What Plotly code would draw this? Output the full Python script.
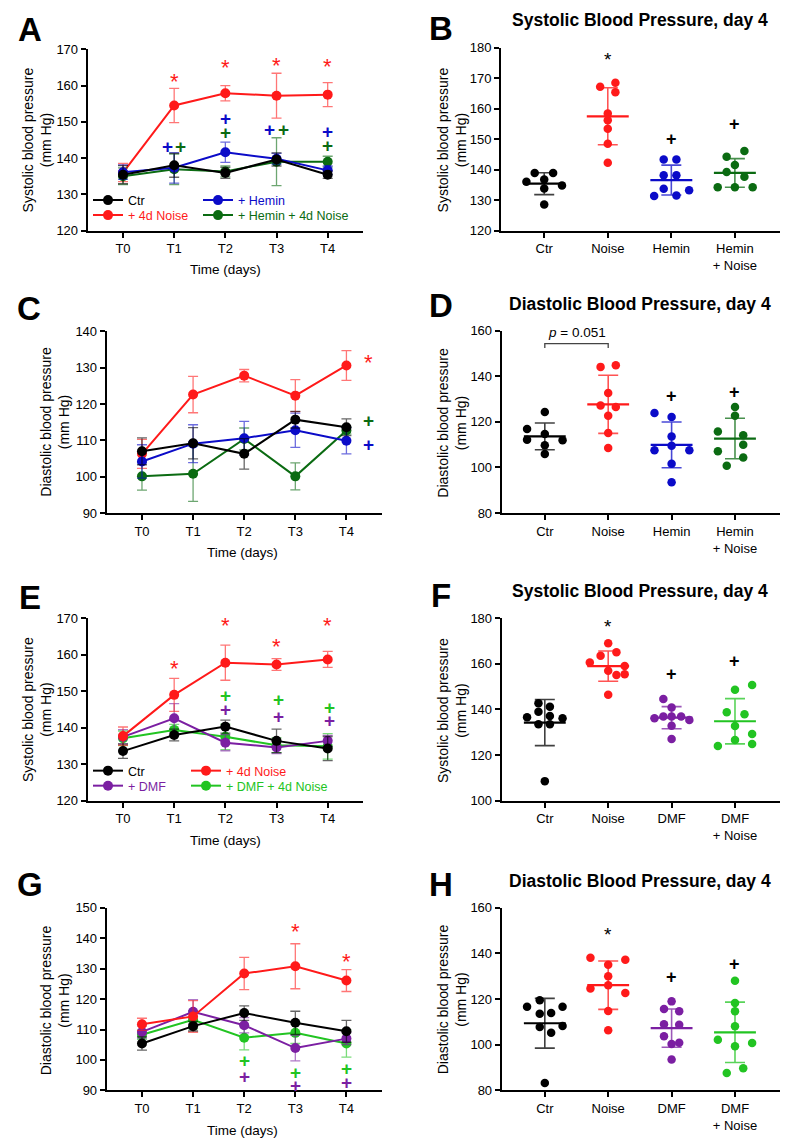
import numpy as np
import plotly.graph_objects as go

FONT = "Liberation Sans, Arial, Helvetica, sans-serif"
BLACK = "#000000"
RED = "#FF1A1A"
BLUE = "#0B0BC8"
DKGREEN = "#0B6B12"
PURPLE = "#7B1FA2"
LTGREEN = "#22C422"

# ---------------- data ----------------
time_labels = ["T0", "T1", "T2", "T3", "T4"]

# Panel A - systolic, hemin (mean +/- SEM)
A_ctr = [135.4, 138.0, 135.9, 139.6, 135.4]
A_ctr_err = [2.5, 3.3, 1.5, 1.8, 1.0]
A_noise = [136.0, 154.5, 157.9, 157.2, 157.5]
A_noise_err = [2.5, 4.7, 2.1, 6.2, 3.3]
A_hemin = [136.1, 137.3, 141.6, 139.8, 136.6]
A_hemin_err = [2.0, 4.2, 2.8, 1.5, 1.2]
A_hn = [135.0, 136.9, 136.3, 139.0, 139.0]
A_hn_err = [2.3, 4.2, 1.5, 6.6, 1.5]

# Panel C - diastolic, hemin
C_ctr = [107.0, 109.2, 106.3, 115.7, 113.6]
C_ctr_err = [3.7, 4.3, 4.2, 2.3, 2.3]
C_noise = [106.3, 122.6, 127.8, 122.3, 130.6]
C_noise_err = [4.0, 5.0, 1.7, 4.4, 4.1]
C_hemin = [104.2, 109.1, 110.6, 112.8, 109.9]
C_hemin_err = [4.6, 5.2, 4.6, 4.7, 3.6]
C_hn = [100.1, 100.8, 110.4, 100.1, 112.7]
C_hn_err = [3.8, 7.6, 3.0, 3.7, 1.0]

# Panel E - systolic, DMF
E_ctr = [133.6, 138.0, 140.3, 136.4, 134.3]
E_ctr_err = [2.0, 1.6, 1.8, 3.2, 3.3]
E_noise = [137.7, 149.0, 157.8, 157.3, 158.7]
E_noise_err = [2.5, 4.5, 4.8, 1.6, 2.2]
E_dmf = [137.5, 142.6, 135.9, 134.6, 136.4]
E_dmf_err = [2.0, 4.0, 2.2, 1.7, 1.5]
E_dn = [137.1, 139.4, 137.5, 135.2, 134.9]
E_dn_err = [2.0, 1.5, 3.5, 2.0, 3.5]

# Panel G - diastolic, DMF
G_ctr = [105.4, 111.1, 115.4, 112.2, 109.4]
G_ctr_err = [2.2, 1.6, 2.4, 3.8, 3.6]
G_noise = [111.7, 114.3, 128.4, 130.8, 126.1]
G_noise_err = [2.0, 5.2, 5.3, 7.4, 3.6]
G_dmf = [109.2, 115.8, 111.4, 103.9, 107.0]
G_dmf_err = [2.0, 4.0, 2.5, 4.2, 2.0]
G_dn = [108.3, 113.2, 107.3, 108.9, 105.4]
G_dn_err = [1.5, 3.0, 4.0, 3.5, 4.5]

# Day-4 individual animals
hemin_groups = ["Ctr", "Noise", "Hemin", "Hemin<br>+ Noise"]
dmf_groups = ["Ctr", "Noise", "DMF", "DMF<br>+ Noise"]

B_ctr = [138.9, 138.9, 136.0, 136.7, 134.8, 133.8, 128.5]
B_noise = [168.5, 167.2, 165.4, 158.4, 156.2, 153.4, 148.5, 142.2]
B_hemin = [143.3, 143.3, 138.1, 138.1, 133.7, 133.2, 131.3, 131.5]
B_hn = [146.1, 144.2, 141.5, 139.2, 137.6, 134.2, 134.2, 134.2]

D_ctr = [124.3, 116.9, 114.7, 112.2, 111.9, 109.7, 105.9]
D_noise = [144.1, 144.8, 132.6, 127.2, 126.5, 122.7, 115.1, 108.5]
D_hemin = [123.9, 122.1, 113.6, 107.5, 109.5, 107.5, 101.6, 93.5]
D_hn = [126.5, 122.7, 115.8, 114.1, 110.0, 107.1, 104.4, 100.8]

F_ctr = [142.7, 141.2, 136.6, 139.0, 137.1, 136.1, 133.5, 133.5, 108.6]
F_noise = [169.0, 163.5, 165.1, 160.6, 157.0, 159.0, 155.1, 155.4, 146.4]
F_dmf = [144.6, 140.9, 136.1, 136.9, 136.9, 136.9, 135.4, 132.9, 127.1]
F_dn = [150.7, 148.6, 138.8, 137.9, 132.8, 129.3, 124.0, 126.6, 124.9]

H_ctr = [119.5, 116.6, 116.6, 113.6, 113.9, 107.8, 108.2, 105.2, 83.2]
H_noise = [138.1, 137.3, 135.1, 130.0, 124.6, 126.1, 122.7, 114.8, 106.3]
H_dmf = [119.0, 115.7, 114.7, 109.0, 108.7, 103.7, 100.9, 100.3, 93.5]
H_dn = [128.0, 118.3, 114.7, 108.1, 102.2, 100.8, 99.3, 89.7, 87.6]

# horizontal scatter (jitter) of the dots, in category units
B_ctr_dx = [-0.15, 0.14, -0.28, 0, 0.28, 0, 0]
B_noise_dx = [0.12, -0.12, 0.12, 0, 0, 0, 0, 0]
B_hemin_dx = [-0.12, 0.08, -0.12, 0.08, -0.12, 0.28, -0.27, 0.08]
B_hn_dx = [0.15, -0.13, 0, -0.13, 0.15, -0.27, 0, 0.28]
D_ctr_dx = [0, -0.28, 0, -0.28, 0.28, 0, 0]
D_noise_dx = [-0.12, 0.12, 0, -0.12, 0.12, 0, 0, 0]
D_hemin_dx = [-0.27, 0, 0, -0.27, 0, 0.28, 0, 0]
D_hn_dx = [0, 0, -0.27, 0.13, 0.13, -0.27, 0.13, -0.13]
F_ctr_dx = [-0.1, 0.08, -0.28, -0.1, 0.08, 0.28, -0.1, 0.08, 0]
F_noise_dx = [0, -0.12, 0.13, -0.29, 0, 0.26, 0.13, 0.26, 0]
F_dmf_dx = [-0.13, 0, -0.27, -0.13, 0, 0.15, 0.28, 0, 0]
F_dn_dx = [0.27, 0, -0.13, 0.15, 0, 0.27, -0.27, 0, 0.27]
H_ctr_dx = [-0.08, -0.28, 0.28, -0.08, 0.1, -0.08, 0.28, 0.1, 0]
H_noise_dx = [-0.28, 0.27, 0, 0, -0.28, 0, 0.27, 0, 0]
H_dmf_dx = [0, -0.12, 0.12, -0.12, 0.12, -0.12, 0.12, 0, 0]
H_dn_dx = [0, 0, 0, 0, -0.27, 0.27, 0, 0.13, -0.13]

# significance markers (x in category units, y in mm Hg)
A_star = ([1, 2, 3, 4], [162.6, 166.5, 167.0, 166.7])
A_plus_hemin = ([0.87, 2, 2.87, 4], [143.3, 151.0, 147.9, 147.2])
A_plus_hn = ([1.12, 2, 3.13, 4], [143.3, 147.0, 147.9, 143.6])
C_star = ([4.44], [132.7])
C_plus_hn = ([4.44], [115.4])
C_plus_hemin = ([4.44], [109.0])
E_star = ([1, 2, 3, 4], [157.5, 169.4, 163.6, 169.4])
E_plus_dn = ([2, 3.03, 4.03], [148.7, 147.8, 145.5])
E_plus_dmf = ([2, 3.03, 4.03], [145.0, 143.2, 141.9])
G_star = ([3, 4], [144.0, 133.9])
G_plus_dn = ([2, 3, 4], [99.9, 95.7, 97.1])
G_plus_dmf = ([2, 3, 4], [94.7, 91.7, 92.5])
B_star = ([1], [177.3]); B_plus = ([2, 3], [150.1, 155.0])
D_plus = ([2, 3], [131.5, 133.0])
F_star = ([1], [178.1]); F_plus = ([2, 3], [155.6, 161.3])
H_star = ([1], [149.9]); H_plus = ([2, 3], [129.7, 135.3])

# ---------------- figure ----------------
W, H = 794, 1148
# the photographed page comes out slightly squeezed vertically; compensate
VS, VO = 0.986, 7.7


def px(x):
    return x / W


def py(y):
    return 1 - ((y - VO) / VS) / H


def rgba(hexc, a):
    h = hexc.lstrip("#")
    return "rgba(%d,%d,%d,%s)" % (int(h[0:2], 16), int(h[2:4], 16), int(h[4:6], 16), a)


def ref(k):
    return ("x" if k == 1 else "x%d" % k), ("y" if k == 1 else "y%d" % k)


fig = go.Figure()
layout = dict(width=W, height=H, margin=dict(l=0, r=0, t=0, b=0),
              paper_bgcolor="white", plot_bgcolor="white",
              font=dict(family=FONT, color="black"), showlegend=True)
annotations = []
shapes = []


def axis_common():
    return dict(showgrid=False, zeroline=False, showline=True, linecolor="black",
                linewidth=2, ticks="outside", ticklen=5, tickwidth=1.5, tickcolor="black",
                tickfont=dict(family=FONT, size=13, color="black"), fixedrange=True)


def set_axes(k, xdom, ydom, xr, yr, dtick, tickvals, ticktext):
    xa = axis_common()
    xa.update(domain=[px(xdom[0]), px(xdom[1])], range=xr, tickmode="array",
              tickvals=tickvals, ticktext=ticktext, anchor=ref(k)[1])
    ya = axis_common()
    ya.update(domain=[py(ydom[1]), py(ydom[0])], range=yr, dtick=dtick, tick0=0,
              anchor=ref(k)[0])
    layout["xaxis" if k == 1 else "xaxis%d" % k] = xa
    layout["yaxis" if k == 1 else "yaxis%d" % k] = ya


def add_line_panel(k, series):
    xr_, yr_ = ref(k)
    for name, vals, errs, color, leg in series:
        fig.add_trace(go.Scatter(
            x=list(range(len(time_labels))), y=vals, mode="lines+markers",
            name='<span style="color:%s">%s</span>' % (color, name),
            line=dict(color=color, width=2), marker=dict(color=color, size=10),
            error_y=dict(type="data", array=errs, visible=True, color=rgba(color, 0.6),
                         thickness=1.3, width=5),
            xaxis=xr_, yaxis=yr_, legend=leg if leg else "legend",
            showlegend=leg is not None, cliponaxis=False))


def add_dot_panel(k, groups):
    xr_, yr_ = ref(k)
    for ci, (vals, dx, color) in enumerate(groups):
        fig.add_trace(go.Scatter(
            x=[ci + d for d in dx], y=vals, mode="markers",
            marker=dict(color=color, size=8.5), xaxis=xr_, yaxis=yr_,
            showlegend=False, cliponaxis=False))
        m = float(np.mean(vals))
        sd = float(np.std(vals, ddof=1))
        fig.add_trace(go.Scatter(
            x=[ci], y=[m], mode="markers", marker=dict(size=2, opacity=0),
            error_x=dict(type="constant", value=0.33, width=0, thickness=2.2, color=color),
            error_y=dict(type="constant", value=sd, width=10, thickness=1.6,
                         color=rgba(color, 0.75)),
            xaxis=xr_, yaxis=yr_, showlegend=False, cliponaxis=False))


def add_marks(k, pts, text, color, size, yshift=0, bold=False):
    xr_, yr_ = ref(k)
    t = "<b>%s</b>" % text if bold else text
    for x, y in zip(*pts):
        annotations.append(dict(x=x, y=y, xref=xr_, yref=yr_, text=t, showarrow=False,
                                font=dict(family=FONT, size=size, color=color),
                                yshift=yshift))


def note(xp, yp, text, size, bold=False, angle=0, xanchor="center", color="black"):
    annotations.append(dict(x=px(xp), y=py(yp), xref="paper", yref="paper",
                            text=("<b>%s</b>" % text) if bold else text, showarrow=False,
                            textangle=angle, xanchor=xanchor, yanchor="middle",
                            font=dict(family=FONT, size=size, color=color)))


LX = [-0.69, 4.69]
DX = [-0.68, 3.71]
tidx = list(range(5))
gidx = list(range(4))

# axes (pixel boxes of each panel)
set_axes(1, (87.7, 363), (50, 231), LX, [120, 170], 10, tidx, time_labels)
set_axes(2, (501, 780), (48.3, 231), DX, [120, 180], 10, gidx, hemin_groups)
set_axes(3, (106.7, 381.7), (331.7, 513.3), LX, [90, 140], 10, tidx, time_labels)
set_axes(4, (501.7, 780), (331, 513.3), DX, [80, 160], 20, gidx, hemin_groups)
set_axes(5, (87.7, 363), (618.3, 800.7), LX, [120, 170], 10, tidx, time_labels)
set_axes(6, (501.7, 780), (618.3, 800.7), DX, [100, 180], 20, gidx, dmf_groups)
set_axes(7, (106.7, 381.7), (907.7, 1090), LX, [90, 150], 10, tidx, time_labels)
set_axes(8, (501.7, 780), (907.7, 1090), DX, [80, 160], 20, gidx, dmf_groups)

# Line panels
add_line_panel(1, [
    ("+ 4d Noise", A_noise, A_noise_err, RED, "legend2"),
    ("+ Hemin + 4d Noise", A_hn, A_hn_err, DKGREEN, "legend4"),
    ("+ Hemin", A_hemin, A_hemin_err, BLUE, "legend3"),
    ("Ctr", A_ctr, A_ctr_err, BLACK, "legend"),
])
add_line_panel(3, [
    ("+ 4d Noise", C_noise, C_noise_err, RED, None),
    ("+ Hemin + 4d Noise", C_hn, C_hn_err, DKGREEN, None),
    ("+ Hemin", C_hemin, C_hemin_err, BLUE, None),
    ("Ctr", C_ctr, C_ctr_err, BLACK, None),
])
add_line_panel(5, [
    ("+ DMF + 4d Noise", E_dn, E_dn_err, LTGREEN, "legend8"),
    ("+ DMF", E_dmf, E_dmf_err, PURPLE, "legend6"),
    ("+ 4d Noise", E_noise, E_noise_err, RED, "legend7"),
    ("Ctr", E_ctr, E_ctr_err, BLACK, "legend5"),
])
add_line_panel(7, [
    ("+ DMF + 4d Noise", G_dn, G_dn_err, LTGREEN, None),
    ("+ DMF", G_dmf, G_dmf_err, PURPLE, None),
    ("+ 4d Noise", G_noise, G_noise_err, RED, None),
    ("Ctr", G_ctr, G_ctr_err, BLACK, None),
])

# Dot panels
add_dot_panel(2, [(B_ctr, B_ctr_dx, BLACK), (B_noise, B_noise_dx, RED),
                  (B_hemin, B_hemin_dx, BLUE), (B_hn, B_hn_dx, DKGREEN)])
add_dot_panel(4, [(D_ctr, D_ctr_dx, BLACK), (D_noise, D_noise_dx, RED),
                  (D_hemin, D_hemin_dx, BLUE), (D_hn, D_hn_dx, DKGREEN)])
add_dot_panel(6, [(F_ctr, F_ctr_dx, BLACK), (F_noise, F_noise_dx, RED),
                  (F_dmf, F_dmf_dx, PURPLE), (F_dn, F_dn_dx, LTGREEN)])
add_dot_panel(8, [(H_ctr, H_ctr_dx, BLACK), (H_noise, H_noise_dx, RED),
                  (H_dmf, H_dmf_dx, PURPLE), (H_dn, H_dn_dx, LTGREEN)])


# legends: one entry each, placed like the original two-column key
def legend_at(text_x, yc):
    return dict(x=px(text_x - 42), y=py(yc), xanchor="left", yanchor="middle",
                bgcolor="rgba(0,0,0,0)", borderwidth=0,
                font=dict(family=FONT, size=12.5), itemwidth=30)


layout["legend"] = legend_at(130, 201)
layout["legend2"] = legend_at(130, 216)
layout["legend3"] = legend_at(240, 201)
layout["legend4"] = legend_at(240, 216)
layout["legend5"] = legend_at(130, 771)
layout["legend6"] = legend_at(130, 786)
layout["legend7"] = legend_at(228, 771)
layout["legend8"] = legend_at(228, 786)

# significance symbols
add_marks(1, A_star, "*", RED, 22, yshift=-5)
add_marks(1, A_plus_hemin, "+", BLUE, 19, bold=True)
add_marks(1, A_plus_hn, "+", DKGREEN, 19, bold=True)
add_marks(3, C_star, "*", RED, 22, yshift=-5)
add_marks(3, C_plus_hn, "+", DKGREEN, 19, bold=True)
add_marks(3, C_plus_hemin, "+", BLUE, 19, bold=True)
add_marks(5, E_star, "*", RED, 22, yshift=-5)
add_marks(5, E_plus_dn, "+", LTGREEN, 19, bold=True)
add_marks(5, E_plus_dmf, "+", PURPLE, 19, bold=True)
add_marks(7, G_star, "*", RED, 22, yshift=-5)
add_marks(7, G_plus_dn, "+", LTGREEN, 19, bold=True)
add_marks(7, G_plus_dmf, "+", PURPLE, 19, bold=True)
add_marks(2, B_star, "*", BLACK, 19, yshift=-4)
add_marks(2, B_plus, "+", BLACK, 18, bold=True)
add_marks(4, D_plus, "+", BLACK, 18, bold=True)
add_marks(6, F_star, "*", BLACK, 19, yshift=-4)
add_marks(6, F_plus, "+", BLACK, 18, bold=True)
add_marks(8, H_star, "*", BLACK, 19, yshift=-4)
add_marks(8, H_plus, "+", BLACK, 18, bold=True)

# p-value bracket in D
shapes.append(dict(type="path", xref="x4", yref="y4",
                   path="M 0,152.4 L 0,154.3 L 1,154.3 L 1,152.4",
                   line=dict(color="#444444", width=1.3)))
annotations.append(dict(x=0.5, y=159.2, xref="x4", yref="y4", showarrow=False,
                        text="<i>p</i> = 0.051",
                        font=dict(family=FONT, size=13.5, color="black")))

# panel letters
for letter, xl, yc in [("A", 16, 30), ("B", 427, 29), ("C", 15, 309), ("D", 427, 306),
                       ("E", 17, 598), ("F", 429, 596), ("G", 15, 884), ("H", 427, 884)]:
    note(xl, yc, letter, 33, bold=True, xanchor="left")

# titles of dot panels
for yc, t in [(21, "Systolic Blood Pressure, day 4"), (304, "Diastolic Blood Pressure, day 4"),
              (591, "Systolic Blood Pressure, day 4"), (881, "Diastolic Blood Pressure, day 4")]:
    note(640, yc, t, 17.5, bold=True)

# axis titles
for xc, yc, t in [(37, 141, "Systolic blood pressure<br>(mm Hg)"),
                  (452, 140, "Systolic blood pressure<br>(mm Hg)"),
                  (55, 422, "Diastolic blood pressure<br>(mm Hg)"),
                  (452, 423, "Diastolic blood pressure<br>(mm Hg)"),
                  (37, 710, "Systolic blood pressure<br>(mm Hg)"),
                  (452, 710, "Systolic blood pressure<br>(mm Hg)"),
                  (55, 1000, "Diastolic blood pressure<br>(mm Hg)"),
                  (452, 999, "Diastolic blood pressure<br>(mm Hg)")]:
    note(xc, yc, t, 14, angle=-90)

for xc, yc in [(225, 270), (243, 553), (225, 840), (243, 1130)]:
    note(xc, yc, "Time (days)", 13.5)

layout["annotations"] = annotations
layout["shapes"] = shapes
fig.update_layout(**layout)
fig.write_html("out.html", config={"displayModeBar": False},
               post_script="document.body.style.margin='0';document.body.style.overflow='hidden';")
